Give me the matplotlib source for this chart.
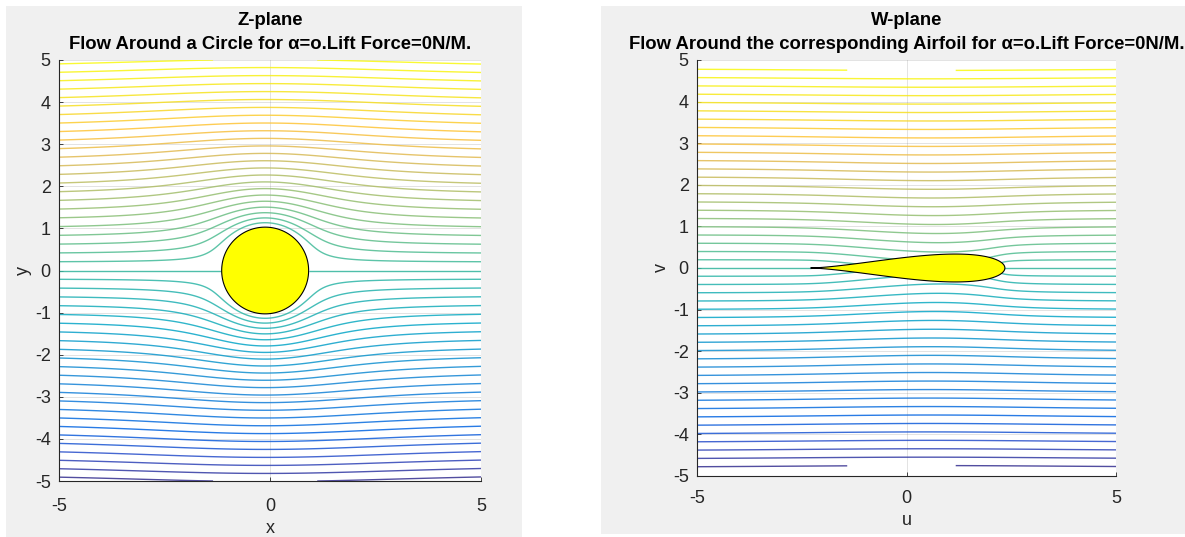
import numpy as np
import matplotlib
matplotlib.use('Agg')
import matplotlib.pyplot as plt
from matplotlib.colors import LinearSegmentedColormap, Normalize
from matplotlib.patches import Polygon, Rectangle

plt.rcParams['font.family'] = ['Liberation Sans', 'DejaVu Sans']
plt.rcParams['axes.unicode_minus'] = False

# flow / geometry parameters
U_inf = 1.0           # free stream speed
alpha = 0.0           # angle of attack
x_center = -0.115     # circle centre on the real axis
radius = 1.03         # circle radius
c_map = radius - x_center   # Joukowski constant, circle passes through z = -c
lim = 5.0
psi_levels = np.round(np.arange(-4.8, 4.81, 0.2), 2)

# parula colour map (sampled rows of the 64-entry table)
parula_idx = [0, 4, 8, 12, 16, 24, 32, 36, 40, 44, 48, 52, 56, 63]
parula_rgb = [(0.2081, 0.1663, 0.5292), (0.1707, 0.2919, 0.7792),
              (0.0117, 0.3875, 0.8820), (0.0629, 0.4737, 0.8554),
              (0.0793, 0.5200, 0.8312), (0.0228, 0.6535, 0.7768),
              (0.2178, 0.7250, 0.6193), (0.3953, 0.7459, 0.5244),
              (0.5709, 0.7485, 0.4494), (0.7184, 0.7411, 0.3905),
              (0.8824, 0.7274, 0.3217), (0.9990, 0.7653, 0.2164),
              (0.9626, 0.8705, 0.1309), (0.9763, 0.9831, 0.0538)]
parula = LinearSegmentedColormap.from_list(
    'parula', [(i / 63, c) for i, c in zip(parula_idx, parula_rgb)])

# stream function around the circle
xs = np.linspace(-lim, lim, 401)
X, Y = np.meshgrid(xs, xs)
Z = X + 1j * Y
zeta = Z - x_center
inside = np.abs(zeta) < radius
zeta_safe = np.where(inside, 1.0, zeta)
psi = np.imag(U_inf * (zeta_safe * np.exp(-1j * alpha) + radius**2 * np.exp(1j * alpha) / zeta_safe))
psi = np.ma.masked_where(inside, psi)
norm = Normalize(vmin=psi.min(), vmax=psi.max())

# Joukowski transform to the airfoil plane
Z_safe = np.where(inside, 1.0, Z)
W = Z_safe + c_map**2 / Z_safe
W = np.where(inside, 0.0, W)

theta = np.linspace(0, 2 * np.pi, 400)
circ = x_center + radius * np.exp(1j * theta)
foil = circ + c_map**2 / circ

fig = plt.figure(figsize=(11.85, 5.37), dpi=100, facecolor='white')
fig.patches.append(Rectangle((6 / 1185, 0), 516 / 1185, 531 / 537, transform=fig.transFigure,
                             facecolor='#f0f0f0', edgecolor='none', zorder=-10))
fig.patches.append(Rectangle((601 / 1185, 3 / 537), 584 / 1185, 528 / 537, transform=fig.transFigure,
                             facecolor='#f0f0f0', edgecolor='none', zorder=-10))

ax1 = fig.add_axes([59 / 1185, 1 - 481 / 537, 422 / 1185, 421 / 537])
ax2 = fig.add_axes([697 / 1185, 1 - 476 / 537, 419 / 1185, 416 / 537])

dark = (0.15, 0.15, 0.15)


def style(ax, xl, yl, title, xpad):
    ax.set_xlim(-5, 5)
    ax.set_ylim(-5, 5)
    ax.set_xticks([-5, 0, 5])
    ax.set_yticks(range(-5, 6))
    ax.grid(True, color=dark, alpha=0.15, lw=0.6)
    ax.set_axisbelow(True)
    for s in ['top', 'right']:
        ax.spines[s].set_visible(False)
    for s in ['left', 'bottom']:
        ax.spines[s].set_color(dark)
        ax.spines[s].set_linewidth(0.8)
    ax.tick_params(direction='in', length=3, width=0.6, colors=dark, labelsize=13)
    ax.tick_params(axis='x', pad=xpad)
    ax.tick_params(axis='y', pad=6)
    ax.set_xlabel(xl, fontsize=13, color=dark, labelpad=4)
    ax.set_ylabel(yl, fontsize=13, color=dark, labelpad=2)
    ax.set_title(title, fontsize=13.3, fontweight='bold', color='black', pad=8, linespacing=1.55)


ax1.contour(X, Y, psi, levels=psi_levels, cmap=parula, norm=norm, linewidths=1.0, alpha=0.85)
ax1.add_patch(Polygon(np.column_stack([circ.real, circ.imag]), closed=True,
                      facecolor='yellow', edgecolor='black', lw=0.8, zorder=5))
style(ax1, 'x', 'y', 'Z-plane\nFlow Around a Circle for α=o.Lift Force=0N/M.', 12)

ax2.contour(W.real, W.imag, psi, levels=psi_levels, cmap=parula, norm=norm, linewidths=1.0, alpha=0.85)
ax2.add_patch(Polygon(np.column_stack([foil.real, foil.imag]), closed=True,
                      facecolor='yellow', edgecolor='black', lw=0.8, zorder=5))
style(ax2, 'u', 'v', 'W-plane\nFlow Around the corresponding Airfoil for α=o.Lift Force=0N/M.', 10)

fig.savefig('out.png', dpi=100, facecolor=fig.get_facecolor())
